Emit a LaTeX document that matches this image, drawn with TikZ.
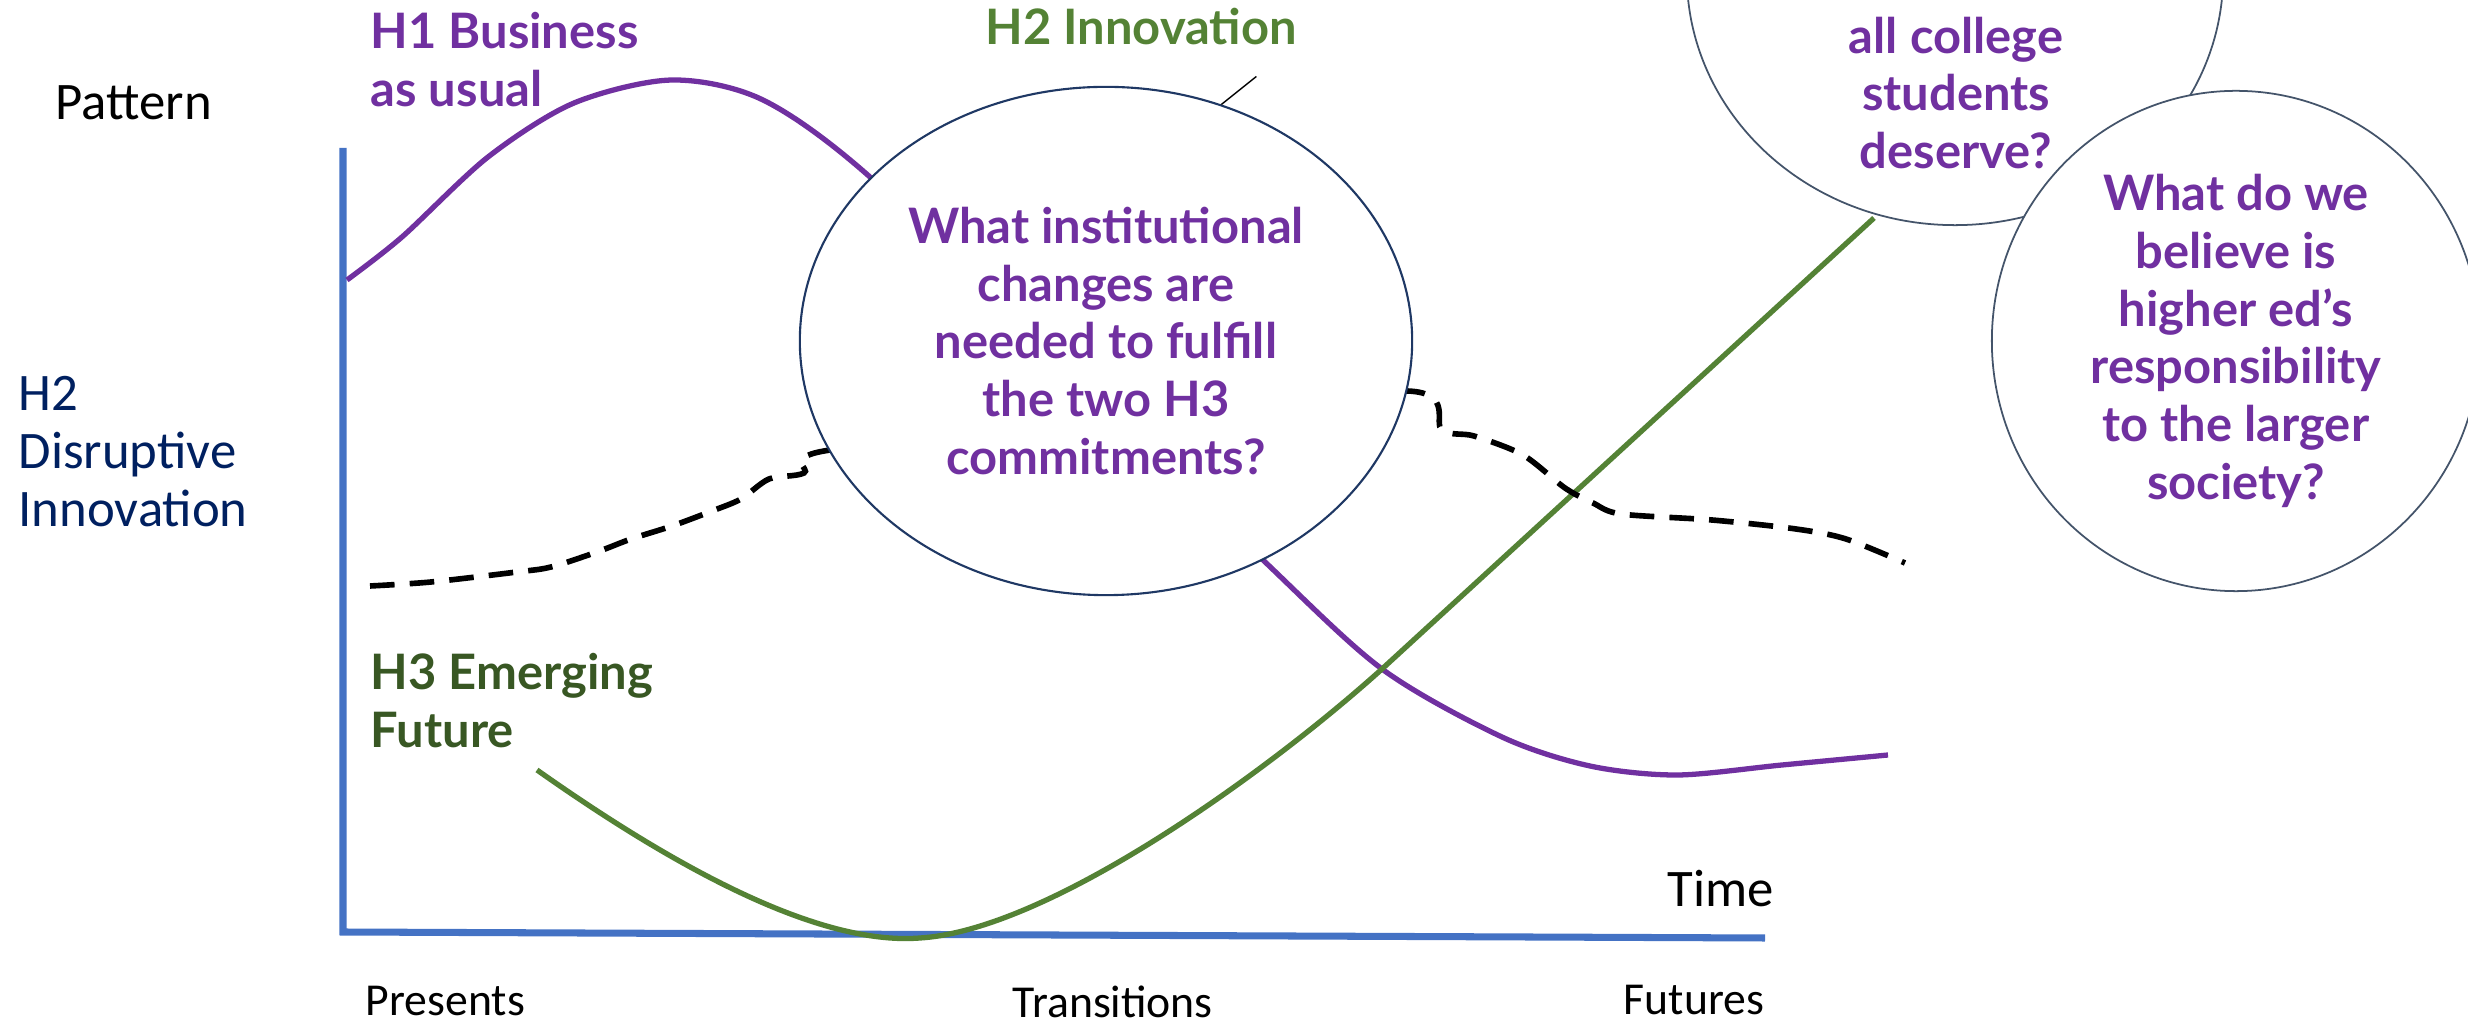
\documentclass[tikz,border=0pt]{standalone}
\usepackage{fontspec}
\setmainfont{Carlito}
\newfontfamily\latofont{Lato}
\usetikzlibrary{shapes.geometric}
\definecolor{axisblue}{HTML}{4472C4}
\definecolor{hpurple}{HTML}{7030A0}
\definecolor{hgreen}{HTML}{548235}
\definecolor{hdarkgreen}{HTML}{385723}
\definecolor{hnavy}{HTML}{002060}
\definecolor{rimblue}{HTML}{1F3864}
\definecolor{rimgray}{HTML}{44546A}
\begin{document}
\begin{tikzpicture}[x=0.01cm, y=-0.01cm,
    axislabel/.style={inner sep=0pt, font=\fontsize{13pt}{15pt}\selectfont},
    biglabel/.style={inner sep=0pt, align=left, font=\fontsize{15pt}{16.5pt}\selectfont},
    hlabel/.style={inner sep=0pt, align=left, font={\latofont\bfseries\fontsize{13.9pt}{16.4pt}\selectfont}},
    qtext/.style={inner sep=0pt, align=center, text=hpurple,
        font={\latofont\bfseries\fontsize{13.9pt}{16.4pt}\selectfont}},
    question/.style={qtext, ellipse, draw=rimblue, line width=0.6pt, fill=white},
    curve/.style={line width=1.5pt}]
    \path[use as bounding box, clip] (0,0) rectangle (2468,1025);
    %% axes
    \coordinate (top) at (343,148);
    \coordinate (origin) at (343,932);
    \coordinate (end) at (1765,938);
    \draw[axisblue, line width=2pt] (top) -- (origin) -- (end);
    %% horizons (points read off by eye)
    \draw[hpurple, curve] plot[smooth] coordinates {(347,280) (402,237) (488,157) (574,103)
        (672,80) (763,100) (870,177) (1066,368) (1263,560) (1382,669) (1502,737)
        (1590,766) (1677,775) (1782,765) (1888,755)};
    \draw[hgreen, curve] (537,770) .. controls (700,885) and (830,945) .. (920,938)
        .. controls (1050,930) and (1270,770) .. (1382,669) -- (1874,218);
    \draw[line width=1.6pt, dash pattern=on 7pt off 4.3pt] plot[smooth] coordinates {(370,586)
        (431,582) (517,572) (551,567) (597,552) (631,539) (672,526) (712,511) (741,499)
        (769,479) (804,473) (824,451) (1100,420) (1407,391) (1442,430) (1474,436) (1523,455)
        (1565,488) (1593,503) (1621,514) (1712,520) (1796,529) (1846,539) (1905,563)};
    %% questions
    \node[question, minimum width=6.12cm, minimum height=5.08cm] (institution) at (1106,341)
        {What institutional\\changes are\\needed to fulfill\\the two H3\\commitments?};
    \draw[line width=0.4pt] (institution.64) -- ++(35,-28);
    \node[question, draw=rimgray, line width=0.5pt, minimum width=5.36cm, minimum height=5cm]
        (deserve) at (1955,-25) {};
    \node[qtext, anchor=north] (deservetext) at (1956,16) {all college\\students\\deserve?};
    \node[question, draw=rimgray, line width=0.5pt, minimum width=4.88cm, minimum height=5cm]
        (society) at (2236,341)
        {What do we\\believe is\\higher ed’s\\responsibility\\to the larger\\society?};
    %% labels
    \node[biglabel, anchor=base west] (pattern) at (55,120) {Pattern};
    \node[biglabel, text=hnavy, anchor=north west] (disruptive) at (18,376) {H2\\Disruptive\\Innovation};
    \node[hlabel, text=hpurple, anchor=north west] (business) at (370,12) {H1 Business\\as usual};
    \node[hlabel, text=hgreen, anchor=base west] (innovation) at (985,45) {H2 Innovation};
    \node[hlabel, text=hdarkgreen, anchor=north west] (emerging) at (370,653) {H3 Emerging\\Future};
    \node[biglabel, anchor=base west] (time) at (1667,907) {Time};
    \node[axislabel, anchor=base west] (presents) at (365,1016) {Presents};
    \node[axislabel, anchor=base west] (transitions) at (1012,1018) {Transitions};
    \node[axislabel, anchor=base west] (futures) at (1623,1015) {Futures};
\end{tikzpicture}
\end{document}
